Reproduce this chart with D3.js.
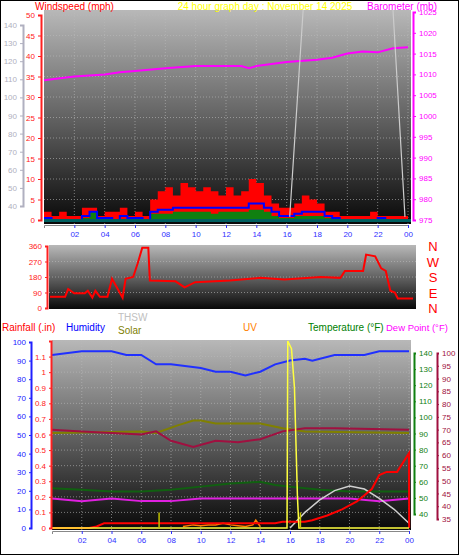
<!DOCTYPE html>
<html><head><meta charset="utf-8">
<script src="https://cdn.jsdelivr.net/npm/d3@7"></script>
<style>body{margin:0;background:#fff}svg{font-family:"Liberation Sans",Arial,sans-serif}</style>
</head><body><svg id="c" width="459" height="555"></svg>
<script>
// ---- data ----
var hourTicks = [2,4,6,8,10,12,14,16,18,20,22,24];
var windHours = [0,0.5,1,1.5,2,2.5,3,3.5,4,4.5,5,5.5,6,6.5,7,7.5,8,8.5,9,9.5,10,10.5,11,11.5,12,12.5,13,13.5,14,14.5,15,15.5,16,16.5,17,17.5,18,18.5,19,19.5,20,20.5,21,21.5,22,22.5,23,23.5,24];
var gust = [2,1,2,1,1,3,3,1,2,2,3,1,2,1,5,7,8,6,9,8,7,8,7,6,8,6,7,10,9,6,4,3,3,4,6,5,4,2,2,1,1,1,1,2,1,1,1,1,1];
var avgWind = [0.5,0,0,0,0,1,2,0.5,0.5,0,1,0.5,0.5,0,2,2.5,2.5,3,3,3,3,3,3,3,3,3,3,4,4,3,2,1,1,1.5,2,2,2,1,0.5,0,0,0,0,0,0.5,0,0,0,0];
var lowWind = [0,0,0,0,0,0.5,2,0,0,0,0,0,0,0,1.5,1.5,1.5,2,2,2,2,2,1.5,2,2,2,2,2.5,2.5,2,1,0.5,0.5,1,1,1,1,0.5,0,0,0,0,0,0,0,0,0,0,0];
var baroHours = [0,2,4,5,6,8,10,12,13,13.5,14,16,18,19,20,21,22,23,24];
var baro = [1008.6,1009.5,1010,1010.5,1010.8,1011.5,1012,1012,1012,1011.5,1012,1013,1013.5,1014,1015,1015.5,1015.3,1016.3,1016.5];
var thswHours = [16.2,17.1,23.0,23.8];
var thswTop = [34,150,150,34];
var dirHours = [0,1,1.2,1.6,2.3,2.5,2.8,3,3.3,3.8,4.1,4.8,5,5.5,5.8,6.1,6.5,6.6,8.3,8.9,9.6,11.9,13.9,15.5,17.9,19.2,19.5,20.7,20.9,21.5,21.9,22.2,22.5,22.8,23,24];
var dirDeg = [65,65,110,85,85,100,60,100,65,65,170,60,170,180,260,350,350,160,155,120,150,160,175,165,180,175,215,215,310,300,230,215,100,90,55,55];
var humHours = [0,2,4,5,6,7,8,10,11,12,13,14,15,16,17,17.5,19,21,22,24];
var humidity = [93,95,95,93,93,88,88,86,84,84,82,84,88,90,91,90,93,93,95,95];
var rainHours = [0,2.5,3,3.5,15,15.5,17,17.5,18.5,19.5,20.5,21.5,22,22.5,23.2,23.8,24,24.01];
var rain = [0,0,0.01,0.03,0.03,0.04,0.04,0.05,0.08,0.12,0.17,0.25,0.34,0.36,0.36,0.45,0.48,0];
var tempHours = [0,2,4,6,8,10,12,14,15,16,18,20,24];
var temp = [56,55,54,54,55,57,59,60,58,57,55,54,54];
var dewHours = [0,2,4,6,8,10,12,14,16,18,20,22,24];
var dew = [43,42,43,42,42,43,43,43,43,43,43,42,43];
var maroonHours = [0,2,4,6,7,8,9.5,11,12.5,14,15.5,17,19,24];
var maroon = [0.63,0.62,0.61,0.6,0.62,0.56,0.52,0.56,0.55,0.57,0.62,0.64,0.64,0.63];
var solarHours = [0,6,7,8.5,9.5,10,11,14,15.5,17,24];
var solar = [0.61,0.62,0.61,0.66,0.69,0.69,0.67,0.67,0.64,0.62,0.61];
var arcHours = [16,17,18,19,20,21,22,23,24];
var arc = [0,0.1,0.18,0.24,0.27,0.25,0.19,0.12,0.03];
var yelHours = [0,15.8,15.85,16.1,16.3,16.5,16.6,24];
var yel = [0,0,1.2,1.15,0.9,0.2,0,0];
var uvHours = [8.8,9.5,10,10.5,11,11.5,12,12.5,13,13.5,13.7,14];
var uv = [0.01,0.02,0.015,0.02,0.02,0.03,0.02,0.015,0.01,0.02,0.05,0.01];

var svg = d3.select("#c");
svg.append("rect").attr("x",0.5).attr("y",0.5).attr("width",458).attr("height",554).attr("fill","#fff").attr("stroke","#000");

var defs = svg.append("defs");
var g1 = defs.append("linearGradient").attr("id","bg").attr("x1",0).attr("y1",0).attr("x2",0).attr("y2",1);
g1.append("stop").attr("offset","0%").attr("stop-color","#b8b8b8");
g1.append("stop").attr("offset","55%").attr("stop-color","#5a5a5a");
g1.append("stop").attr("offset","100%").attr("stop-color","#080808");

function colorAxis(sel, col){
  sel.selectAll("path").attr("stroke",col).attr("stroke-width",2);
  sel.selectAll("line").attr("stroke",col);
  sel.selectAll("text").attr("fill",col).style("font-size","8px");
}
function panel(x0,x1,y0,y1){
  svg.append("rect").attr("x",x0).attr("y",y0).attr("width",x1-x0).attr("height",y1-y0).attr("fill","url(#bg)");
}
function txt(x,y,s,col,size,anchor){
  svg.append("text").attr("x",x).attr("y",y).attr("fill",col).style("font-size",(size||11)+"px")
    .attr("text-anchor",anchor||"start").text(s);
}

// ===== top panel =====
var x = d3.scaleLinear().domain([0,24]).range([44,408]);
var yW = d3.scaleLinear().domain([0,50]).range([220,15]);
var yB = d3.scaleLinear().domain([975,1025]).range([220,12]);
var yG = d3.scaleLinear().domain([40,140]).range([206,25]);
panel(44,411,10,224);
var grid = svg.append("g").attr("stroke","#bbb").attr("stroke-dasharray","1,2").attr("opacity",0.6);
hourTicks.forEach(function(h){grid.append("line").attr("x1",x(h)).attr("x2",x(h)).attr("y1",10).attr("y2",224);});
d3.range(0,51,5).forEach(function(v){grid.append("line").attr("x1",44).attr("x2",411).attr("y1",yW(v)).attr("y2",yW(v));});

svg.append("path").datum(gust).attr("fill","#ff0000")
  .attr("d",d3.area().curve(d3.curveStepAfter).x(function(d,i){return x(windHours[i]);}).y0(yW(0)).y1(function(d){return yW(d);}));
svg.append("path").datum(lowWind).attr("fill","#108010")
  .attr("d",d3.area().curve(d3.curveStepAfter).x(function(d,i){return x(windHours[i]);}).y0(yW(0)).y1(function(d){return yW(d);}));
svg.append("path").datum(avgWind).attr("fill","none").attr("stroke","#0000ff").attr("stroke-width",2)
  .attr("d",d3.line().curve(d3.curveStepAfter).x(function(d,i){return x(windHours[i]);}).y(function(d){return yW(d);}));
svg.append("rect").attr("x",44).attr("y",219).attr("width",367).attr("height",3).attr("fill","#006060");
svg.append("path").datum(baro).attr("fill","none").attr("stroke","#ff00ff").attr("stroke-width",2)
  .attr("d",d3.line().x(function(d,i){return x(baroHours[i]);}).y(function(d){return yB(d);}));
var cp = defs.append("clipPath").attr("id","cp1");
cp.append("rect").attr("x",44).attr("y",10).attr("width",367).attr("height",214);
svg.append("path").datum(thswTop).attr("clip-path","url(#cp1)").attr("fill","none").attr("stroke","#ccc").attr("stroke-width",1.2)
  .attr("d",d3.line().x(function(d,i){return x(thswHours[i]);}).y(function(d){return yG(d);}));

colorAxis(svg.append("g").attr("transform","translate(23,0)").call(d3.axisLeft(yG).tickValues(d3.range(40,141,10)).tickSize(3)),"#b0b0c0");
colorAxis(svg.append("g").attr("transform","translate(41,0)").call(d3.axisLeft(yW).tickValues(d3.range(0,51,5)).tickSize(3)),"#ff2020");
colorAxis(svg.append("g").attr("transform","translate(413,0)").call(d3.axisRight(yB).tickValues(d3.range(975,1026,5)).tickSize(3).tickFormat(d3.format("d"))),"#ff00ff");
var xa = svg.append("g").attr("transform","translate(0,225)").call(d3.axisBottom(x).tickValues(hourTicks).tickSize(3).tickFormat(function(d){return d3.format("02")(d%24);}));
colorAxis(xa,"#3030ff"); xa.select("path").attr("stroke","#888").attr("stroke-width",1);

txt(35,10,"Windspeed (mph)","#ff0000",10);
txt(265,10,"24 hour graph day : November 14 2025","#ffff00",10,"middle");
txt(367,10,"Barometer (mb)","#ff00ff",10);

// ===== wind direction panel =====
var xd = d3.scaleLinear().domain([0,24]).range([50,413]);
var yD = d3.scaleLinear().domain([0,360]).range([308,246]);
panel(49,416,245,309);
var gd = svg.append("g").attr("stroke","#bbb").attr("stroke-dasharray","1,2").attr("opacity",0.6);
[90,180,270].forEach(function(v){gd.append("line").attr("x1",49).attr("x2",416).attr("y1",yD(v)).attr("y2",yD(v));});
svg.append("path").datum(dirDeg).attr("fill","none").attr("stroke","#ff0000").attr("stroke-width",2)
  .attr("d",d3.line().x(function(d,i){return xd(dirHours[i]);}).y(function(d){return yD(d);}));
colorAxis(svg.append("g").attr("transform","translate(47,0)").call(d3.axisLeft(yD).tickValues([0,90,180,270,360]).tickSize(2)),"#ff2020");
svg.selectAll(".nwsen").data(["N","W","S","E","N"]).enter().append("text")
  .attr("x",433).attr("y",function(d,i){return yD(360-i*90)+5;}).attr("fill","#ff0000")
  .attr("text-anchor","middle").style("font-size","13px").text(function(d){return d;});

// ===== bottom panel =====
var xb = d3.scaleLinear().domain([0,24]).range([52,409]);
var yR = d3.scaleLinear().domain([0,1.2]).range([528,341]);
var yH = d3.scaleLinear().domain([0,100]).range([528,342]);
var yT = d3.scaleLinear().domain([40,140]).range([514,353]);
var yDP = d3.scaleLinear().domain([35,100]).range([519,353]);
panel(52,411,340,530);
var gb = svg.append("g").attr("stroke","#bbb").attr("stroke-dasharray","1,2").attr("opacity",0.6);
hourTicks.forEach(function(h){gb.append("line").attr("x1",xb(h)).attr("x2",xb(h)).attr("y1",340).attr("y2",530);});
d3.range(0.1,1.2,0.1).forEach(function(v){gb.append("line").attr("x1",52).attr("x2",411).attr("y1",yR(v)).attr("y2",yR(v));});

function ln(vals,hrs,ys,col,w){
  svg.append("path").datum(vals).attr("fill","none").attr("stroke",col).attr("stroke-width",w||2)
    .attr("d",d3.line().x(function(d,i){return xb(hrs[i]);}).y(function(d){return ys(d);}));
}
ln(humidity,humHours,yH,"#2030ff");
ln(solar,solarHours,yR,"#808000");
ln(maroon,maroonHours,yR,"#a01040");
ln(temp,tempHours,yT,"#106010");
ln(dew,dewHours,yDP,"#e020e0");
ln(arc,arcHours,yR,"#d0d0d0",1.5);
ln(uv,uvHours,yR,"#ff8000",1.5);
ln(rain,rainHours,yR,"#ff0000");
ln(yel,yelHours,yR,"#ffff40",1.5);
svg.append("line").attr("x1",xb(7.2)).attr("x2",xb(7.2)).attr("y1",yR(0)).attr("y2",yR(0.1)).attr("stroke","#c0c000").attr("stroke-width",1.5);
svg.append("line").attr("x1",xb(16.7)).attr("x2",xb(16.7)).attr("y1",yR(0)).attr("y2",yR(0.1)).attr("stroke","#c0c000").attr("stroke-width",1.5);

colorAxis(svg.append("g").attr("transform","translate(31,0)").call(d3.axisLeft(yH).tickValues(d3.range(0,101,10)).tickSize(2)),"#2020ff");
colorAxis(svg.append("g").attr("transform","translate(51,0)").call(d3.axisLeft(yR).tickValues(d3.range(0,12).map(function(i){return i/10;})).tickSize(2).tickFormat(function(d){return d===0?"0":d3.format(".1~f")(d);})),"#ff2020");
colorAxis(svg.append("g").attr("transform","translate(414,0)").call(d3.axisRight(yT).tickValues(d3.range(40,141,10)).tickSize(2)),"#108010");
colorAxis(svg.append("g").attr("transform","translate(437,0)").call(d3.axisRight(yDP).tickValues(d3.range(35,101,5)).tickSize(2)),"#a01040");
var xb2 = svg.append("g").attr("transform","translate(0,531)").call(d3.axisBottom(xb).tickValues(hourTicks).tickSize(3).tickFormat(function(d){return d3.format("02")(d%24);}));
colorAxis(xb2,"#3030ff"); xb2.select("path").attr("stroke","#888").attr("stroke-width",1);

txt(2,331,"Rainfall (.in)","#ff0000",10);
txt(66,331,"Humidity","#0000ff",10);
txt(118,321,"THSW","#c0c0c0",10);
txt(118,334,"Solar","#808000",10);
txt(250,331,"UV","#ff8000",10,"middle");
txt(308,331,"Temperature (°F)","#008000",10);
txt(386,331,"Dew Point (°F)","#ff00ff",9.5);
</script></body></html>
